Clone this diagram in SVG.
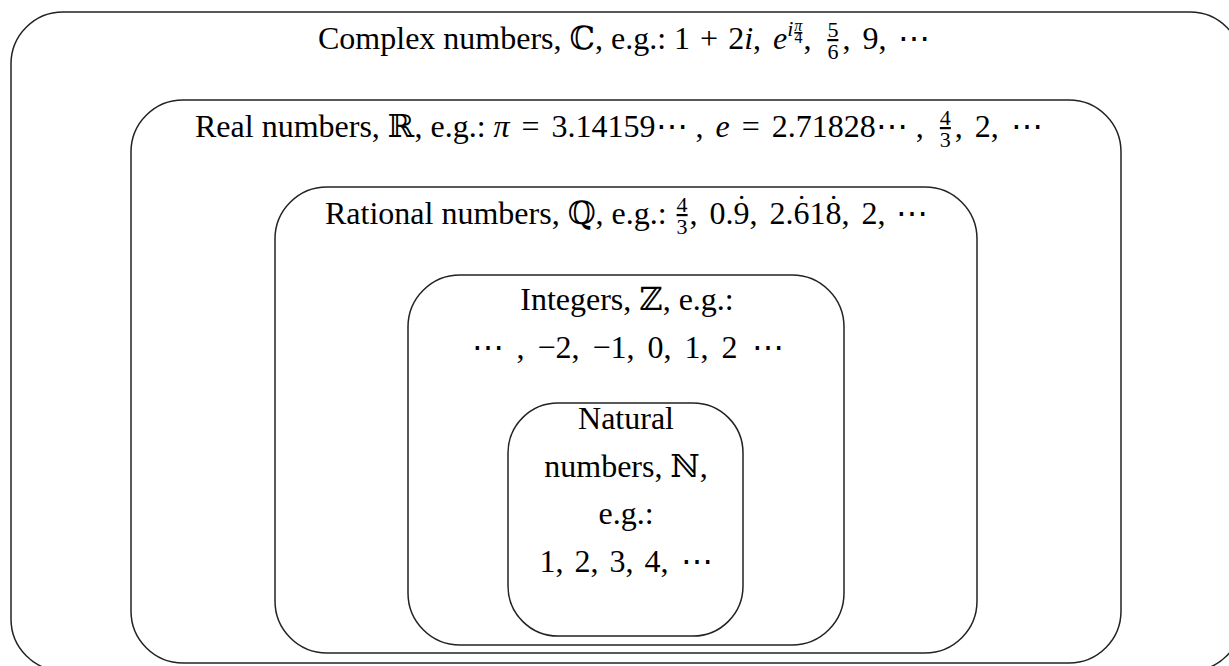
<svg xmlns="http://www.w3.org/2000/svg" width="1229" height="666" viewBox="0 0 1229 666">
<style>
.box{fill:none;stroke:#222;stroke-width:1.5}
text{font-family:"Liberation Serif","DejaVu Serif",serif;font-size:32px;fill:#000}
.it{font-style:italic}
.m{text-anchor:middle}
</style>
<rect width="1229" height="666" fill="#fff"/>
<g id="complex">
<rect class="box" x="11" y="12" width="1231" height="659" rx="52"/>
<text x="318" y="49">Complex numbers, ℂ, e.g.: 1<tspan dx="2"> + </tspan><tspan dx="2">2</tspan><tspan class="it">i</tspan>,<tspan dx="4"> </tspan><tspan class="it">e</tspan><tspan class="it" font-size="22" dy="-13">i</tspan><tspan class="it" font-size="16" dx="1" dy="-5" text-decoration="underline">π</tspan><tspan font-size="16" dx="-8" dy="12">4</tspan><tspan dx="1" dy="6">,</tspan><tspan dx="4"> </tspan><tspan font-size="22" dx="4" dy="-12" text-decoration="underline">5</tspan><tspan font-size="22" dx="-11" dy="22">6</tspan><tspan dx="4" dy="-10">,</tspan><tspan dx="4"> 9,</tspan><tspan dx="4"> ⋯</tspan></text>
</g>
<g id="real">
<rect class="box" x="131" y="100" width="990" height="563" rx="52"/>
<text x="195" y="137">Real numbers, ℝ, e.g.: <tspan class="it">π</tspan><tspan dx="4"> = </tspan><tspan dx="4">3.14159⋯ ,</tspan><tspan dx="4"> </tspan><tspan class="it">e</tspan><tspan dx="4"> = </tspan><tspan dx="4">2.71828⋯ ,</tspan><tspan dx="4"> </tspan><tspan font-size="22" dx="4" dy="-12" text-decoration="underline">4</tspan><tspan font-size="22" dx="-11" dy="22">3</tspan><tspan dx="4" dy="-10">,</tspan><tspan dx="4"> 2,</tspan><tspan dx="4"> ⋯</tspan></text>
</g>
<g id="rational">
<rect class="box" x="275" y="187" width="702" height="466" rx="52"/>
<text x="325" y="224">Rational numbers, ℚ, e.g.: <tspan font-size="22" dx="2" dy="-12" text-decoration="underline">4</tspan><tspan font-size="22" dx="-11" dy="22">3</tspan><tspan dx="2" dy="-10">,</tspan><tspan dx="4"> 0.9</tspan><tspan dx="-13.3" dy="-7">˙</tspan><tspan dx="2.6" dy="7">,</tspan><tspan dx="4"> 2.6</tspan><tspan dx="-13.3" dy="-7">˙</tspan><tspan dx="2.6" dy="7">18</tspan><tspan dx="-13.3" dy="-7">˙</tspan><tspan dx="2.6" dy="7">,</tspan><tspan dx="4"> 2,</tspan><tspan dx="3"> ⋯</tspan></text>
</g>
<g id="integers">
<rect class="box" x="408" y="275" width="436" height="370" rx="52"/>
<text class="m" x="627" y="310">Integers, ℤ, e.g.:</text>
<text class="m" x="628" y="358">⋯<tspan dx="4"> ,</tspan><tspan dx="5"> −2,</tspan><tspan dx="5"> −1,</tspan><tspan dx="5"> 0,</tspan><tspan dx="5"> 1,</tspan><tspan dx="5"> 2</tspan><tspan dx="6"> ⋯</tspan></text>
</g>
<g id="natural">
<rect class="box" x="508" y="403" width="235" height="233" rx="50"/>
<text class="m" x="626" y="429">Natural</text>
<text class="m" x="626" y="477">numbers, ℕ,</text>
<text class="m" x="626" y="524">e.g.:</text>
<text class="m" x="626" y="572">1,<tspan dx="3"> 2,</tspan><tspan dx="3"> 3,</tspan><tspan dx="3"> 4,</tspan><tspan dx="4"> ⋯</tspan></text>
</g>
<g id="connectors"/>
</svg>
